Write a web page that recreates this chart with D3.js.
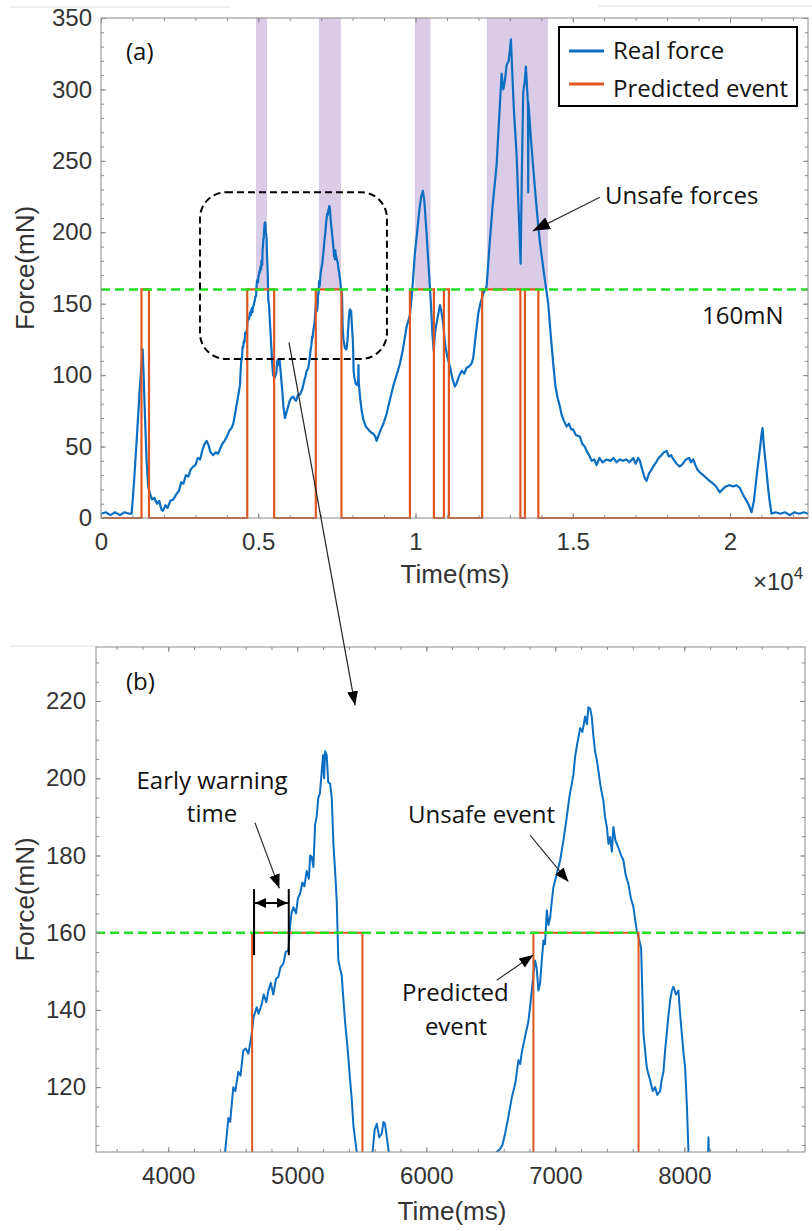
<!DOCTYPE html>
<html>
<head>
<meta charset="utf-8">
<script src="https://cdn.jsdelivr.net/npm/d3@7"></script>
<style>
body { margin: 0; background: #fff; }
svg { display: block; }
</style>
</head>
<body>
<div id="plot"></div>
<script>
// Real force (a) and (b): [time ms, force mN]
const forceSamples = [
  [0,3],[150,4],[300,2],[450,4],[600,2],[750,4],[900,3],[975,3],[1050,25],[1150,60],[1230,90],
  [1290,108],[1325,118],[1355,100],[1400,70],[1450,40],[1500,22],[1558,17],[1620,13],[1700,14],
  [1780,10],[1850,12],[1920,6],[1971,5],[2050,9],[2120,7],[2200,12],[2300,13],[2406,17],[2480,19],
  [2550,25],[2620,24],[2700,30],[2780,29],[2850,34],[2935,36],[3000,37],[3080,42],[3150,41],[3230,48],
  [3300,52],[3360,54],[3420,51],[3480,46],[3571,44],[3650,46],[3720,45],[3783,48],[3860,52],[3930,54],
  [4000,57],[4080,61],[4150,63],[4206,66],[4280,75],[4350,84],[4419,93],[4440,103],[4466,112],[4480,111],
  [4504,120],[4520,119],[4543,124],[4560,123],[4582,129.5],[4600,130],[4621,128.7],[4647,133.8],[4660,138],
  [4686,140.7],[4700,139],[4725,141.6],[4740,144],[4760,142],[4776,145],[4795,147],[4814,144],[4835,148],
  [4853,148.5],[4870,151],[4892,152],[4910,155],[4931,155.4],[4944,161.5],[4955,165],[4970,166.6],
  [4990,165],[5005,169],[5021,170],[5040,173],[5055,172],[5073,176],[5090,174],[5100,180],[5112,179.6],
  [5125,177],[5138,188],[5150,190],[5163,195],[5175,196],[5190,202],[5200,206],[5208,200],[5216,207],
  [5228,206],[5240,199],[5254,198.6],[5267,195],[5280,183],[5295,175],[5306,168],[5318,153],[5330,151],
  [5344,149],[5357,143],[5370,137],[5390,130],[5409,122],[5422,117],[5435,110],[5473,100],[5520,98],
  [5580,102],[5600,109],[5616,110.5],[5635,107],[5655,108],[5668,111],[5680,110.5],[5706,104],[5760,90],
  [5800,78],[5849,70],[5900,74],[5950,78],[6000,82],[6050,84],[6113,85],[6160,83],[6200,82],[6260,86],
  [6326,86.5],[6400,90],[6450,95],[6500,99],[6539,103],[6572,104],[6590,105],[6611,108],[6640,113],
  [6663,117.4],[6690,121],[6714,127],[6728,126],[6740,129],[6765,133],[6791,137],[6805,141],[6817,145],
  [6830,149],[6843,152.8],[6855,151],[6869,145],[6882,147],[6895,152.8],[6908,158],[6920,157],
  [6934,165.8],[6947,162],[6960,164],[6972,168],[6985,171.8],[7010,175],[7037,178.7],[7063,184],
  [7089,190],[7108,195],[7128,198.6],[7140,201],[7153,205.5],[7170,209],[7192,213],[7210,212],
  [7231,216],[7245,214],[7256,218.4],[7270,218],[7282,216],[7295,211],[7308,207],[7320,205],[7334,202],
  [7350,198],[7373,194],[7385,190],[7399,187.4],[7412,183],[7425,184.8],[7438,181],[7450,187.4],
  [7465,184],[7489,182],[7510,180],[7528,178.7],[7545,175],[7566,172.7],[7585,169],[7605,166.7],
  [7620,163],[7631,160.6],[7651,158],[7665,156],[7683,134],[7709,125],[7735,121.7],[7755,119],
  [7773,120],[7790,118],[7812,119],[7825,122],[7838,124],[7852,130],[7864,134],[7878,139],[7890,142.5],
  [7903,145],[7915,146],[7935,144],[7954,145],[7967,139],[7980,134],[7993,129],[8006,125],[8020,115],
  [8032,103],[8060,98],[8100,94],[8150,93],[8178,96],[8187,107],[8196,95],[8240,84],[8290,75],[8340,69],
  [8420,64],[8500,62],[8580,60],[8657,59],[8720,57],[8764,54],[8830,58],[8900,62],[8980,66],[9082,73],
  [9200,84],[9300,93],[9400,100],[9505,108],[9600,118],[9718,134],[9823,142],[9900,160],[9980,185],
  [10050,200],[10120,215],[10180,225],[10236,229],[10280,222],[10350,200],[10420,175],[10490,150],
  [10540,128],[10580,117],[10620,130],[10700,140],[10777,149],[10820,145],[10882,136],[10950,120],
  [11020,112],[11095,106],[11180,97],[11254,92],[11300,94],[11380,99],[11466,103],[11550,101],
  [11620,105],[11700,106],[11780,108],[11836,112],[11900,125],[11995,143],[12060,150],[12153,157],
  [12261,162],[12350,190],[12450,218],[12579,247],[12660,280],[12738,311],[12790,300],[12843,306],
  [12897,317],[12960,320],[13000,327],[13034,335],[13070,315],[13130,285],[13215,254],[13280,215],
  [13342,178],[13380,240],[13425,298],[13470,305],[13510,316],[13550,300],[13575,290],[13584,228],
  [13590,291],[13640,275],[13692,259],[13800,230],[13900,205],[13956,193],[14080,172],[14220,150],
  [14300,128],[14379,108],[14450,92],[14520,84],[14591,78],[14650,72],[14720,68],[14804,64],[14880,66],
  [14950,62],[15015,62],[15100,58],[15227,57],[15300,52],[15380,50],[15440,47],[15520,44],[15600,40],
  [15680,41],[15758,37],[15850,42],[15950,39],[16076,41],[16200,40],[16300,42],[16394,39],[16500,41],
  [16600,40],[16700,41],[16800,39],[16923,42],[17000,38],[17080,42],[17135,40],[17220,33],[17290,28],
  [17347,26],[17420,31],[17480,33],[17558,36],[17650,39],[17730,42],[17820,44],[17900,46],[17983,47],
  [18060,43],[18130,44],[18200,41],[18300,38],[18406,36],[18500,38],[18600,41],[18700,42],[18760,39],
  [18830,41],[18900,37],[18960,34],[19042,32],[19150,30],[19250,28],[19350,26],[19465,24],[19560,22],
  [19677,18],[19760,20],[19860,22],[19995,23],[20100,22],[20200,23],[20313,21],[20420,16],[20526,12],
  [20600,9],[20685,4],[20760,12],[20850,30],[20950,48],[21000,58],[21034,63],[21080,50],[21164,32],
  [21240,15],[21320,3],[21450,4],[21600,3],[21750,4],[21900,2],[22050,4],[22200,3],[22350,4],[22480,3]
];

// Predicted event pulses (ms)
const eventStart = [1287, 4650, 6830, 9822, 10903, 12120, 13478];
const eventEnd   = [1526, 5505, 7645, 10585, 11062, 13335, 13907];

// Unsafe (shaded) intervals (ms)
const unsafeStart = [4927, 6929, 9981, 12270];
const unsafeEnd   = [5277, 7629, 10480, 14209];

const threshold = 160;

const ticksAx = [0, 5000, 10000, 15000, 20000];
const ticksAy = [0, 50, 100, 150, 200, 250, 300, 350];
const ticksBx = [4000, 5000, 6000, 7000, 8000];
const ticksBy = [120, 140, 160, 180, 200, 220];

const blue = "#0a6fc2";
const orange = "#e2561f";
const green = "#22e022";
const purple = "#dacbe6";
const axisGray = "#8a8a8a";
const textGray = "#333";
const tickFont = "Liberation Sans, Arial, sans-serif";
const noteFont = "Open Sans, sans-serif";

const W = 812, H = 1231;
const svg = d3.select("#plot").append("svg").attr("width", W).attr("height", H);

// arrow heads
const defs = svg.append("defs");
function marker(id, len, wid) {
  defs.append("marker")
    .attr("id", id)
    .attr("markerUnits", "userSpaceOnUse")
    .attr("viewBox", `0 0 ${len} ${wid}`)
    .attr("refX", len).attr("refY", wid / 2)
    .attr("markerWidth", len).attr("markerHeight", wid)
    .attr("orient", "auto-start-reverse")
    .append("path")
    .attr("d", `M0,0L${len},${wid / 2}L0,${wid}Z`)
    .attr("fill", "#000");
}
marker("headBig", 17, 13);
marker("head", 14, 11);
marker("headSmall", 11, 10);

// faint screenshot frame lines
[[10, 7, 230, 7], [598, 6, 812, 6], [10, 646, 96, 646]].forEach(l => {
  svg.append("line").attr("x1", l[0]).attr("y1", l[1]).attr("x2", l[2]).attr("y2", l[3])
    .attr("stroke", "#e2e2e2").attr("stroke-width", 1);
});

// event step signal built from pulse edges
const eventSteps = [[0, 0]];
eventStart.forEach((s, i) => {
  eventSteps.push([s, 0], [s, threshold], [eventEnd[i], threshold], [eventEnd[i], 0]);
});
eventSteps.push([22480, 0]);

function drawAxes(g, x, y, box, o) {
  const styleAxis = sel => {
    sel.select(".domain").remove();
    sel.selectAll("line").attr("stroke", axisGray).attr("stroke-width", 1);
    sel.selectAll("text").attr("fill", textGray).attr("font-family", tickFont).attr("font-size", 24);
  };
  const sides = [
    {gen: () => d3.axisBottom(x), t: `translate(0,${box.bottom})`, lab: o.xfmt, major: o.xt, minor: o.xm, pad: 15},
    {gen: () => d3.axisTop(x), t: `translate(0,${box.top})`, lab: null, major: o.xt, minor: o.xm, pad: 0},
    {gen: () => d3.axisLeft(y), t: `translate(${box.left},0)`, lab: o.yfmt, major: o.yt, minor: o.ym, pad: o.ypad},
    {gen: () => d3.axisRight(y), t: `translate(${box.right},0)`, lab: null, major: o.yt, minor: o.ym, pad: 0}
  ];
  sides.forEach(s => {
    g.append("g").attr("transform", s.t)
      .call(s.gen().tickValues(s.minor).tickSize(-3).tickSizeOuter(0).tickFormat(""))
      .call(styleAxis);
    g.append("g").attr("transform", s.t)
      .call(s.gen().tickValues(s.major).tickSize(-5).tickSizeOuter(0)
        .tickPadding(s.pad).tickFormat(s.lab ? s.lab : ""))
      .call(styleAxis);
  });
  g.append("rect")
    .attr("x", box.left).attr("y", box.top)
    .attr("width", box.right - box.left).attr("height", box.bottom - box.top)
    .attr("fill", "none").attr("stroke", axisGray).attr("stroke-width", 1);
}

// ---------------- panel (a) ----------------
const boxA = {left: 101, right: 808, top: 18, bottom: 518};
const xA = d3.scaleLinear().domain([0, 22480]).range([boxA.left, boxA.right]);
const yA = d3.scaleLinear().domain([0, 350]).range([boxA.bottom, boxA.top]);
const gA = svg.append("g");

gA.selectAll("rect.unsafe").data(unsafeStart).enter().append("rect")
  .attr("class", "unsafe")
  .attr("x", d => xA(d))
  .attr("width", (d, i) => xA(unsafeEnd[i]) - xA(d))
  .attr("y", yA(350))
  .attr("height", yA(threshold) - yA(350))
  .attr("fill", purple);

const lineA = d3.line().x(d => xA(d[0])).y(d => yA(d[1]));
gA.append("path").datum(forceSamples).attr("d", lineA)
  .attr("fill", "none").attr("stroke", blue).attr("stroke-width", 2.2).attr("stroke-linejoin", "round");
gA.append("path").datum(eventSteps).attr("d", lineA)
  .attr("fill", "none").attr("stroke", orange).attr("stroke-width", 2.2);
gA.append("line")
  .attr("x1", xA(0)).attr("x2", xA(22480)).attr("y1", yA(threshold)).attr("y2", yA(threshold))
  .attr("stroke", green).attr("stroke-width", 2.5).attr("stroke-dasharray", "9,5");

drawAxes(gA, xA, yA, boxA, {
  xt: ticksAx, xm: d3.range(0, 22001, 1000), xfmt: d => d3.format("~g")(d / 10000),
  yt: ticksAy, ym: d3.range(0, 351, 10), yfmt: d3.format("d"), ypad: 9
});

// zoom box around the first two peaks
gA.append("rect")
  .attr("x", xA(3147)).attr("y", yA(228))
  .attr("width", xA(9092) - xA(3147)).attr("height", yA(111.3) - yA(228))
  .attr("rx", 26).attr("ry", 26)
  .attr("fill", "none").attr("stroke", "#000").attr("stroke-width", 2).attr("stroke-dasharray", "7,4");

// legend
const leg = gA.append("g");
leg.append("rect").attr("x", 559).attr("y", 27).attr("width", 238).attr("height", 79)
  .attr("fill", "#fff").attr("stroke", "#000").attr("stroke-width", 2);
[["Real force", blue, 51, 59], ["Predicted event", orange, 84, 97]].forEach(r => {
  leg.append("line").attr("x1", 569).attr("x2", 604).attr("y1", r[2]).attr("y2", r[2])
    .attr("stroke", r[1]).attr("stroke-width", 3);
  leg.append("text").attr("x", 613).attr("y", r[3]).text(r[0])
    .attr("font-family", noteFont).attr("font-size", 24).attr("fill", "#111");
});

const note = (g, x, y, s, anchor) => g.append("text").attr("x", x).attr("y", y)
  .attr("text-anchor", anchor || "start").attr("font-family", noteFont)
  .attr("font-size", 24).attr("fill", "#111").text(s);

note(gA, 126, 60, "(a)");
note(gA, 605, 204, "Unsafe forces");
note(gA, 702, 324, "160mN");
gA.append("line")
  .attr("x1", xA(15863)).attr("y1", yA(224.5)).attr("x2", xA(13733)).attr("y2", yA(201))
  .attr("stroke", "#333").attr("stroke-width", 1.2).attr("marker-end", "url(#headBig)");

gA.append("text").attr("x", 455).attr("y", 583).attr("text-anchor", "middle")
  .attr("font-family", tickFont).attr("font-size", 26).attr("fill", textGray).text("Time(ms)");
gA.append("text").attr("transform", `translate(34,${(boxA.top + boxA.bottom) / 2}) rotate(-90)`)
  .attr("text-anchor", "middle")
  .attr("font-family", tickFont).attr("font-size", 26).attr("fill", textGray).text("Force(mN)");
const mult = gA.append("text").attr("x", 753).attr("y", 590)
  .attr("font-family", tickFont).attr("font-size", 24).attr("fill", textGray);
mult.append("tspan").text("×10");
mult.append("tspan").attr("font-size", 17).attr("dy", -11).text("4");

// ---------------- panel (b) ----------------
const boxB = {left: 96, right: 805, top: 647, bottom: 1152};
const xB = d3.scaleLinear().domain([3440, 8935]).range([boxB.left, boxB.right]);
const yB = d3.scaleLinear().domain([103.2, 234]).range([boxB.bottom, boxB.top]);
const gB = svg.append("g");

defs.append("clipPath").attr("id", "clipB").append("rect")
  .attr("x", boxB.left).attr("y", boxB.top)
  .attr("width", boxB.right - boxB.left).attr("height", boxB.bottom - boxB.top);

const plotB = gB.append("g").attr("clip-path", "url(#clipB)");
const lineB = d3.line().x(d => xB(d[0])).y(d => yB(d[1]));
plotB.append("path").datum(forceSamples).attr("d", lineB)
  .attr("fill", "none").attr("stroke", blue).attr("stroke-width", 2).attr("stroke-linejoin", "round");
plotB.append("path").datum(eventSteps).attr("d", lineB)
  .attr("fill", "none").attr("stroke", orange).attr("stroke-width", 2);
plotB.append("line")
  .attr("x1", boxB.left).attr("x2", boxB.right).attr("y1", yB(threshold)).attr("y2", yB(threshold))
  .attr("stroke", green).attr("stroke-width", 2.5).attr("stroke-dasharray", "9,5");

drawAxes(gB, xB, yB, boxB, {
  xt: ticksBx, xm: d3.range(3600, 8801, 200), xfmt: d3.format("d"),
  yt: ticksBy, ym: d3.range(105, 231, 5), yfmt: d3.format("d"), ypad: 10
});

gB.append("text").attr("x", 452).attr("y", 1220).attr("text-anchor", "middle")
  .attr("font-family", tickFont).attr("font-size", 26).attr("fill", textGray).text("Time(ms)");
gB.append("text").attr("transform", `translate(34,${(boxB.top + boxB.bottom) / 2}) rotate(-90)`)
  .attr("text-anchor", "middle")
  .attr("font-family", tickFont).attr("font-size", 26).attr("fill", textGray).text("Force(mN)");

note(gB, 126, 690, "(b)");
note(gB, 212, 789, "Early warning", "middle");
note(gB, 212, 822, "time", "middle");
note(gB, 408, 823, "Unsafe event");
note(gB, 402, 1001, "Predicted");
note(gB, 456, 1035, "event", "middle");

// early warning bracket: predicted event -> threshold crossing
const warnFrom = 4665, warnTo = 4934;
[warnFrom, warnTo].forEach(t => {
  gB.append("line").attr("x1", xB(t)).attr("x2", xB(t)).attr("y1", yB(171.3)).attr("y2", yB(154.2))
    .attr("stroke", "#000").attr("stroke-width", 2);
});
gB.append("line")
  .attr("x1", xB(warnFrom) + 1).attr("x2", xB(warnTo) - 1).attr("y1", yB(167.7)).attr("y2", yB(167.7))
  .attr("stroke", "#000").attr("stroke-width", 2)
  .attr("marker-start", "url(#headSmall)").attr("marker-end", "url(#headSmall)");

const pointer = (t1, f1, t2, f2) => gB.append("line")
  .attr("x1", xB(t1)).attr("y1", yB(f1)).attr("x2", xB(t2)).attr("y2", yB(f2))
  .attr("stroke", "#333").attr("stroke-width", 1.2).attr("marker-end", "url(#head)");
pointer(4672, 188.5, 4861, 171.5);   // early warning time
pointer(6804, 185.3, 7101, 173.2);   // unsafe event
pointer(6546, 147.7, 6829, 154.2);   // predicted event

// arrow from the zoom box in (a) down to panel (b)
svg.append("line")
  .attr("x1", xA(5977)).attr("y1", yA(123))
  .attr("x2", xB(5448)).attr("y2", yB(218.9))
  .attr("stroke", "#222").attr("stroke-width", 1.2).attr("marker-end", "url(#head)");
</script>
</body>
</html>
